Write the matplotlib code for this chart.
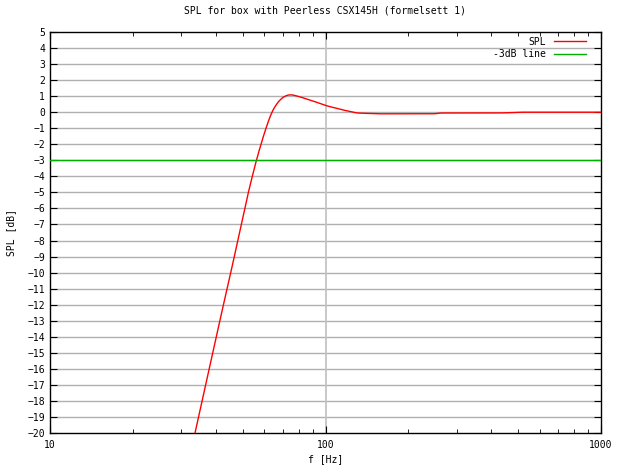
import numpy as np
import matplotlib
matplotlib.use("Agg")
import matplotlib.pyplot as plt
from matplotlib.ticker import FixedLocator, FixedFormatter, NullFormatter

# frekvens (Hz) og SPL (dB), lest av figuren
freq = [33.6, 36.8, 41.4, 45.4, 49.0, 52.7, 56.1, 58.3, 60.5, 63.4, 66.0, 69.0,
        72.0, 75.0, 80.0, 90.0, 100.0, 115.0, 130.0, 155.0, 250.0, 260.0, 430.0,
        500.0, 1000.0]
spl = [-20.0, -16.95, -12.95, -9.94, -7.3, -4.85, -3.0, -2.0, -1.1, -0.1, 0.45, 0.85,
       1.05, 1.1, 0.98, 0.7, 0.42, 0.15, -0.05, -0.1, -0.1, -0.05, -0.05,
       0.0, 0.0]
db3 = -3

y_ticks = list(range(-20, 6))
x_ticks = [10, 100, 1000]

plt.rcParams['font.family'] = ['DejaVu Sans Mono']
plt.rcParams['font.size'] = 7

fig = plt.figure(figsize=(6.2, 4.65), dpi=100)
ax = fig.add_axes([50/620, 32/465, 551/620, 401/465])

# glatt kurve i log-rom
lf = np.log10(freq)
xs = np.linspace(lf[0], lf[-1], 600)
ys = np.interp(xs, lf, spl)
k = np.ones(9) / 9
ys_s = np.convolve(np.pad(ys, 4, mode="edge"), k, mode="valid")
ys_s[:40] = ys[:40]
ys_s[-40:] = ys[-40:]
ax.plot(10 ** xs, ys_s, color="#ff0000", lw=1, label="SPL", zorder=3)
ax.axhline(db3, color="#00b000", lw=1, label="-3dB line", zorder=3)

ax.set_xscale("log")
ax.set_xlim(10, 1000)
ax.set_ylim(-20, 5)
ax.set_yticks(y_ticks)
ax.xaxis.set_major_locator(FixedLocator(x_ticks))
ax.xaxis.set_major_formatter(FixedFormatter(["10", "100", "1000"]))
ax.xaxis.set_minor_locator(FixedLocator([m * d for d in (10, 100) for m in range(2, 10)]))
ax.xaxis.set_minor_formatter(NullFormatter())

ax.tick_params(which="both", direction="in", top=True, right=True, color="black")
ax.tick_params(which="major", length=5)
ax.tick_params(which="minor", length=3)
ax.tick_params(axis="x", pad=5)

for y in y_ticks[1:-1]:
    ax.axhline(y, color="#b0b0b0", lw=1, zorder=1)
ax.axvline(100, color="#c0c0c0", lw=1.2, zorder=1)

for s in ax.spines.values():
    s.set_color("black")
    s.set_linewidth(1)

ax.set_title("SPL for box with Peerless CSX145H (formelsett 1)", fontsize=7, pad=13)
ax.set_xlabel("f [Hz]", labelpad=3)
ax.set_ylabel("SPL [dB]", labelpad=8)

leg = ax.legend(loc="upper right", bbox_to_anchor=(1 - 8/551, 1 + 2/401),
                frameon=False, markerfirst=False, handlelength=3.3,
                borderaxespad=0.3, labelspacing=0.25, handletextpad=0.8)
for t in leg.get_texts():
    t.set_ha("right")

fig.savefig("out.png", dpi=100)
